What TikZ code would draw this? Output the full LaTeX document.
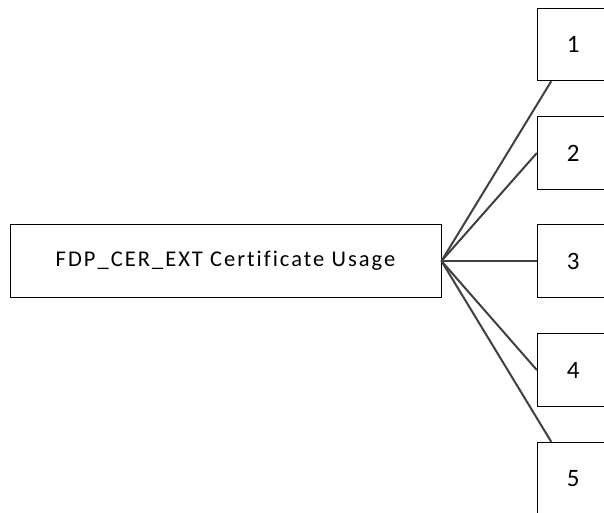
\documentclass[tikz,border=0pt]{standalone}
\usepackage{fontspec}
\setmainfont{Carlito}
\newfontfamily\labelfont[LetterSpace=9,Ligatures=NoCommon]{Carlito}
\usetikzlibrary{calc}
\tikzset{
  box/.style={draw=black, line width=0.9pt, fill=white, inner sep=0pt},
  mainbox/.style={box, minimum width=431pt, minimum height=73pt, font=\labelfont\fontsize{22.5}{26}\selectfont},
  numbox/.style={box, minimum width=72pt, minimum height=72.5pt, font=\fontsize{25}{30}\selectfont},
  link/.style={draw=black!75, line width=2pt}
}
\begin{document}
\begin{tikzpicture}[x=1pt, y=-1pt]
  \useasboundingbox (0,0) rectangle (604,512);
  \clip (0,0) rectangle (604,512);
  \node[mainbox] (main) at (225.5,261) {FDP\_CER\_EXT Certificate Usage};
  \node[numbox] (b1) at (573.3,44.5) {1};
  \node[numbox] (b2) at (573.3,153) {2};
  \node[numbox] (b3) at (573.3,261) {3};
  \node[numbox] (b4) at (573.3,370) {4};
  \node[numbox] (b5) at (573.3,478.5) {5};
  \coordinate (e1) at ($(b1.south west)+(14.4,0)$);
  \coordinate (e5) at ($(b5.north west)+(14.4,0)$);
  \draw[link] (main.east) -- (e1);
  \draw[link] (main.east) -- (b2.west);
  \draw[link] (main.east) -- (b3.west);
  \draw[link] (main.east) -- (b4.west);
  \draw[link] (main.east) -- (e5);
\end{tikzpicture}
\end{document}
